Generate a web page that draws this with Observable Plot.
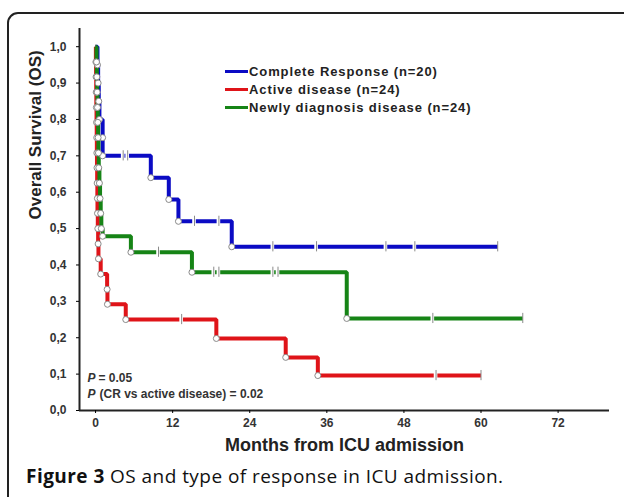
<!DOCTYPE html>
<html>
<head>
<meta charset="utf-8">
<script src="https://cdn.jsdelivr.net/npm/d3@7"></script>
<script src="https://cdn.jsdelivr.net/npm/@observablehq/plot@0.6"></script>
<style>
  html, body { margin: 0; padding: 0; background: #fff; width: 624px; height: 497px; overflow: hidden; }
  #box { position: absolute; left: 7px; top: 12px; width: 640px; height: 520px; border: 2px solid #222; border-radius: 11px; box-sizing: border-box; }
  #chart { position: absolute; left: 0; top: 0; }
  #legend { position: absolute; left: 225px; top: 63px; font-family: "Liberation Sans", Arial, sans-serif; font-weight: bold; font-size: 13px; letter-spacing: 0.9px; color: #222; }
  #legend .row { height: 18px; line-height: 18px; white-space: nowrap; }
  #legend .sw { display: inline-block; width: 23px; height: 3px; vertical-align: middle; margin-right: 1px; position: relative; top: -1px; }
  #caption { position: absolute; left: 26px; top: 463px; font-family: "Open Sans", "Noto Sans", sans-serif; font-size: 19px; letter-spacing: 0.45px; line-height: 26px; color: #111; white-space: nowrap; }
</style>
</head>
<body>
<div id="box"></div>
<div id="chart"></div>
<div id="legend"></div>
<div id="caption"><b>Figure 3</b> OS and type of response in ICU admission.</div>
<script>
// ---- Data ----
const seriesNames = ["Complete Response (n=20)", "Active disease (n=24)", "Newly diagnosis disease (n=24)"];
const seriesColors = ["#0b0bc4", "#df1419", "#168416"];

// Complete Response
const crTime = [0, 0.3, 0.4, 0.5, 0.6, 1.1, 1.1, 8.6, 11.4, 12.9, 21.2, 62.6];
const crSurv = [1.0, 0.95, 0.9, 0.85, 0.8, 0.75, 0.70, 0.64, 0.58, 0.52, 0.45, 0.45];
const crCensor = [4.3, 5.0, 15.4, 19.2, 27.6, 34.4, 45.2, 49.7];

// Active disease
const adTime = [0, 0.05, 0.08, 0.1, 0.12, 0.15, 0.18, 0.2, 0.22, 0.25, 0.28, 0.3, 0.35, 0.4, 0.45, 0.8, 1.8, 1.85, 4.7, 18.8, 29.6, 34.6, 60.0];
const adSurv = [1.0, 0.958, 0.917, 0.875, 0.833, 0.792, 0.75, 0.708, 0.667, 0.625, 0.583, 0.542, 0.5, 0.458, 0.417, 0.375, 0.333, 0.292, 0.25, 0.198, 0.146, 0.096, 0.096];
const adCensor = [13.4, 53.0];

// Newly diagnosis disease
const ndTime = [0, 0.15, 0.2, 0.25, 0.3, 0.35, 0.4, 0.45, 0.5, 0.6, 0.7, 0.8, 0.9, 1.1, 5.5, 15.0, 39.1, 66.5];
const ndSurv = [1.0, 0.958, 0.917, 0.875, 0.833, 0.792, 0.75, 0.708, 0.667, 0.625, 0.583, 0.542, 0.50, 0.479, 0.435, 0.38, 0.253, 0.253];
const ndCensor = [9.8, 18.4, 19.2, 27.6, 28.4, 52.5];

const xTicks = [0, 12, 24, 36, 48, 60, 72];
const yTicks = [0, 0.1, 0.2, 0.3, 0.4, 0.5, 0.6, 0.7, 0.8, 0.9, 1.0];
const xDomain = [-2.5, 80];
const yDomain = [0, 1.05];
const xLabel = "Months from ICU admission";
const yLabel = "Overall Survival (OS)";
const pText1 = "= 0.05";
const pText2 = "(CR vs active disease) = 0.02";

// ---- Build tables ----
const groups = [
  {name: seriesNames[0], color: seriesColors[0], t: crTime, s: crSurv, c: crCensor},
  {name: seriesNames[1], color: seriesColors[1], t: adTime, s: adSurv, c: adCensor},
  {name: seriesNames[2], color: seriesColors[2], t: ndTime, s: ndSurv, c: ndCensor}
];
function survAt(g, t) {
  let v = g.s[0];
  for (let i = 0; i < g.t.length; i++) if (g.t[i] <= t) v = g.s[i];
  return v;
}
const drawOrder = [groups[1], groups[0], groups[2]];
const lines = [], events = [], gaps = [], ticks = [];
for (const g of groups) {
  g.t.forEach((t, i) => lines.push({name: g.name, t, s: g.s[i]}));
  for (let i = 1; i < g.t.length - 1; i++) events.push({name: g.name, t: g.t[i], s: g.s[i]});
  for (const t of g.c) { const s = survAt(g, t); gaps.push({t, s}); ticks.push({t, s}); }
  ticks.push({t: g.t[g.t.length - 1], s: g.s[g.s.length - 1]});
}
const fmt = d => d.toFixed(1).replace(".", ",");
const font = "Liberation Sans, Arial, sans-serif";

const marks = [];
for (const g of drawOrder) {
  marks.push(Plot.line(lines.filter(d => d.name === g.name), {x: "t", y: "s", curve: "step-after", stroke: g.color, strokeWidth: 4, strokeLinejoin: "miter", strokeLinecap: "butt"}));
}
marks.push(
  Plot.ruleY(gaps, {x1: d => d.t - 0.28, x2: d => d.t + 0.28, y: "s", stroke: "white", strokeWidth: 7}),
  Plot.ruleX(ticks, {x: "t", y1: d => d.s - 0.014, y2: d => d.s + 0.014, stroke: "#8a8a8a", strokeWidth: 1}),
  Plot.dot(events, {x: "t", y: "s", r: 3, fill: "white", stroke: "#8a8a8a", strokeWidth: 1}),
  Plot.ruleY([yDomain[0]], {stroke: "#222", strokeWidth: 2}),
  Plot.ruleX([xDomain[0]], {stroke: "#222", strokeWidth: 2}),
  Plot.axisX({ticks: xTicks, tickSize: 3, tickPadding: 5, fontSize: 12, fontWeight: "bold", fontFamily: font, fill: "#333", label: null}),
  Plot.axisY({ticks: yTicks, tickFormat: fmt, tickSize: 3, tickPadding: 10, fontSize: 12, fontWeight: "bold", fontFamily: font, fill: "#333", label: null}),
  Plot.text([yLabel], {frameAnchor: "left", rotate: -90, dx: -44, fontSize: 17, fontWeight: "bold", fontFamily: font, fill: "#222"}),
  Plot.text([xLabel], {frameAnchor: "bottom", dy: 40, fontSize: 18, fontWeight: "bold", fontFamily: font, fill: "#222"}),
  Plot.text(["P"], {frameAnchor: "bottom-left", dx: 8, dy: -29, textAnchor: "start", fontSize: 12, fontWeight: "bold", fontStyle: "italic", fontFamily: font, fill: "#333"}),
  Plot.text([pText1], {frameAnchor: "bottom-left", dx: 19, dy: -29, textAnchor: "start", fontSize: 12, fontWeight: "bold", fontFamily: font, fill: "#333"}),
  Plot.text(["P"], {frameAnchor: "bottom-left", dx: 8, dy: -13, textAnchor: "start", fontSize: 12, fontWeight: "bold", fontStyle: "italic", fontFamily: font, fill: "#333"}),
  Plot.text([pText2], {frameAnchor: "bottom-left", dx: 20, dy: -13, textAnchor: "start", fontSize: 12, fontWeight: "bold", fontFamily: font, fill: "#333"})
);

const plot = Plot.plot({
  width: 624,
  height: 460,
  marginLeft: 79,
  marginRight: 15,
  marginTop: 28,
  marginBottom: 50,
  x: {domain: xDomain},
  y: {domain: yDomain},
  style: {background: "transparent", fontFamily: font, overflow: "visible"},
  marks
});
document.getElementById("chart").appendChild(plot);

// Legend
const leg = document.getElementById("legend");
for (let i = 0; i < seriesNames.length; i++) {
  const row = document.createElement("div");
  row.className = "row";
  const sw = document.createElement("span");
  sw.className = "sw";
  sw.style.background = seriesColors[i];
  row.appendChild(sw);
  row.appendChild(document.createTextNode(seriesNames[i]));
  leg.appendChild(row);
}
</script>
</body>
</html>
